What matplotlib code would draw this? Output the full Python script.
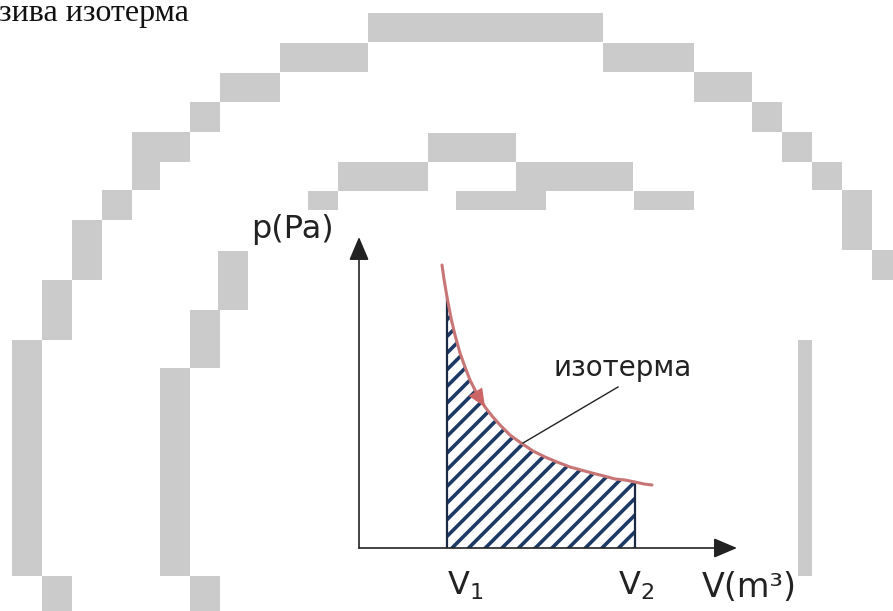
import numpy as np
import matplotlib
matplotlib.use("Agg")
import matplotlib.pyplot as plt

# --- isotherm (V and p in arbitrary units) ---
V = [0.83, 0.85, 0.88, 0.92, 0.96, 1.01, 1.06, 1.11, 1.16, 1.21, 1.26, 1.33, 1.41, 1.51,
     1.62, 1.74, 1.86, 1.98, 2.11, 2.22, 2.33, 2.45, 2.56, 2.66, 2.76, 2.85, 2.93]
p = [2.83, 2.69, 2.51, 2.30, 2.13, 1.95, 1.81, 1.68, 1.58, 1.49, 1.41, 1.32, 1.23, 1.13,
     1.05, 0.97, 0.91, 0.86, 0.81, 0.78, 0.75, 0.72, 0.69, 0.68, 0.66, 0.64, 0.63]
V1, V2 = 0.88, 2.76
V_max, p_max = 3.78, 3.11

curve_label = "изотерма"
x_label = "V(m³)"
y_label = "p(Pa)"
title_text = "зива изотерма"

# grey staircase blocks behind the diagram (x0, y0, x1, y1 in pixels)
blocks = [
    (368, 13, 603, 42), (280, 43, 368, 72), (603, 43, 694, 72),
    (220, 73, 280, 102), (694, 72, 752, 102), (190, 102, 220, 132),
    (752, 102, 782, 132), (132, 132, 190, 162), (782, 132, 812, 162),
    (132, 162, 160, 190), (812, 162, 842, 190), (102, 190, 132, 220),
    (842, 190, 872, 250), (72, 220, 102, 280), (872, 250, 893, 280),
    (42, 280, 72, 340), (12, 340, 42, 576), (42, 576, 72, 611),
    (428, 133, 516, 162), (338, 162, 428, 191), (516, 162, 633, 191),
    (308, 191, 338, 210), (456, 191, 546, 210), (634, 191, 694, 210),
    (218, 251, 248, 310), (190, 310, 220, 368), (160, 368, 190, 576),
    (190, 576, 220, 611), (798, 340, 812, 576),
]

W, H = 893, 611
fig = plt.figure(figsize=(W / 100, H / 100), dpi=100)

# background axes in pixel units
bg = fig.add_axes([0, 0, 1, 1])
bg.set_xlim(0, W)
bg.set_ylim(H, 0)
bg.axis("off")
for x0, y0, x1, y1 in blocks:
    bg.bar(x0, y1 - y0, width=x1 - x0, bottom=y0, align="edge",
           color="#cbcbcb", edgecolor="none")

bg.text(-1, 21, title_text, family="Liberation Serif", fontsize=23,
        va="baseline", ha="left", color="#111111")

# the p-V diagram
ax = fig.add_axes([359 / W, (H - 548) / H, 378 / W, 311 / H])
ax.set_xlim(0, V_max)
ax.set_ylim(0, p_max)
ax.axis("off")
ax.patch.set_alpha(0)

V = np.array(V)
p = np.array(p)
mask = (V >= V1) & (V <= V2)

plt.rcParams["hatch.linewidth"] = 2.6
ax.fill_between(V[mask], p[mask], 0, facecolor="white", hatch="//",
                edgecolor="#1d3a66", linewidth=0)
ax.vlines([V1, V2], 0, [p[V == V1][0], p[V == V2][0]], color="#1a2a44", lw=1.6)
ax.plot(V, p, color="#c87575", lw=2.2, solid_capstyle="round", solid_joinstyle="round")

# direction arrow on the isotherm
ax.annotate("", xy=(V[10], p[10]), xytext=(V[9], p[9]),
            arrowprops=dict(arrowstyle="-|>,head_length=0.5,head_width=0.22",
                            color="#cc6565", lw=0, mutation_scale=26,
                            shrinkA=0, shrinkB=0))

# axes arrows
arrow_kw = dict(arrowstyle="-|>,head_length=0.4,head_width=0.17", color="#222222",
                lw=1.2, mutation_scale=36, shrinkA=0, shrinkB=0)
ax.annotate("", xy=(V_max, 0), xytext=(0, 0), arrowprops=arrow_kw, annotation_clip=False)
ax.annotate("", xy=(0, p_max), xytext=(0, 0), arrowprops=arrow_kw, annotation_clip=False)

# leader line and labels
ax.plot([1.64, 2.59], [1.05, 1.61], color="#222222", lw=1)
ax.text(1.95, 1.72, curve_label, fontsize=20, color="#222222", va="baseline", ha="left")

bg.text(447, 595, r"V$_1$", fontsize=23, color="#222222", va="baseline", ha="left")
bg.text(618, 595, r"V$_2$", fontsize=23, color="#222222", va="baseline", ha="left")
bg.text(702, 597, x_label, fontsize=24, color="#222222", va="baseline", ha="left")
bg.text(251, 238, y_label, fontsize=23, color="#222222", va="baseline", ha="left")

fig.savefig("out.png", dpi=100)
